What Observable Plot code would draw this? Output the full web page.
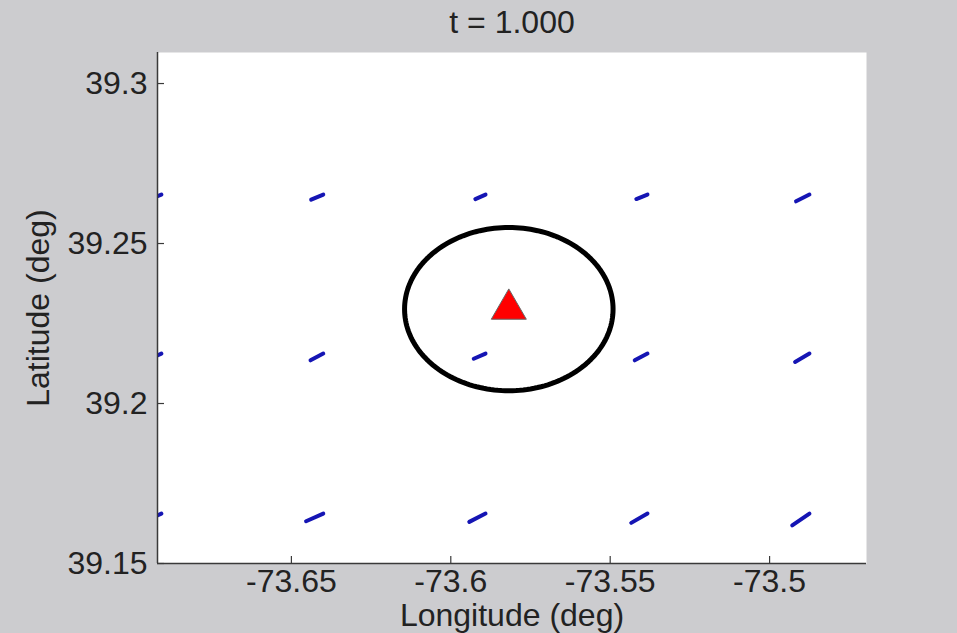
<!DOCTYPE html>
<html>
<head>
<meta charset="utf-8">
<script src="https://cdn.jsdelivr.net/npm/d3@7"></script>
<script src="https://cdn.jsdelivr.net/npm/@observablehq/plot@0.6"></script>
<style>
  html, body { margin: 0; padding: 0; background: #cccccf; }
  #chart { width: 957px; height: 633px; }
</style>
</head>
<body>
<div id="chart"></div>
<script>
// ---- data ----
const titleText = "t = 1.000";
const xLabel = "Longitude (deg)";
const yLabel = "Latitude (deg)";
const xTicks = [-73.65, -73.6, -73.55, -73.5];
const yTicks = [39.15, 39.2, 39.25, 39.3];
const xDomain = [-73.6920, -73.4696];
const yDomain = [39.15, 39.3097];

// quiver grid (anchor points)
const arrowLon = [-73.6908, -73.6400, -73.5891, -73.5383, -73.4875];
const arrowLat = [39.2653, 39.2156, 39.1656];
// vector components, 1e-3 deg (rows = arrowLat, cols = arrowLon)
const arrowU = [
  [-3.8, -3.8, -3.2, -3.5, -4.2],
  [-4.0, -4.0, -3.7, -4.0, -4.5],
  [-5.1, -5.4, -5.1, -5.1, -5.4]
];
const arrowV = [
  [-1.6, -1.6, -1.4, -1.4, -2.1],
  [-1.9, -2.1, -1.6, -2.1, -2.6],
  [-2.4, -2.4, -2.6, -2.9, -3.7]
];

// source location and ring
const sourceLon = -73.5818;
const sourceLat = 39.2295;
const ringRadiusLon = 0.0327;
const ringRadiusLat = 0.0255;

// ---- derived tables ----
const arrows = [];
arrowLat.forEach((lat, i) => arrowLon.forEach((lon, j) => {
  arrows.push({lon, lat, lon2: lon + arrowU[i][j] / 1000, lat2: lat + arrowV[i][j] / 1000});
}));
const ring = d3.range(0, 361, 2).map(a => {
  const t = a * Math.PI / 180;
  return {lon: sourceLon + ringRadiusLon * Math.cos(t), lat: sourceLat + ringRadiusLat * Math.sin(t)};
});

const W = 957, H = 633, mL = 157, mR = 91, mT = 52, mB = 70;
const plotW = W - mL - mR, plotH = H - mT - mB;
const axisColor = "#3a3a3a";
const FS = 32;

const chart = Plot.plot({
  width: W, height: H,
  marginLeft: mL, marginRight: mR, marginTop: mT, marginBottom: mB,
  x: {domain: xDomain},
  y: {domain: yDomain},
  style: {background: "#cccccf", fontFamily: "'Liberation Sans', Arial, sans-serif", fontSize: FS + "px", color: "#222"},
  marks: [
    Plot.frame({fill: "white", stroke: "none"}),
    Plot.link(arrows, {x1: "lon", y1: "lat", x2: "lon2", y2: "lat2", stroke: "#1515b4", strokeWidth: 4, strokeLinecap: "round", clip: true}),
    Plot.line(ring, {x: "lon", y: "lat", stroke: "black", strokeWidth: 5, curve: "linear-closed"}),
    Plot.dot([{lon: sourceLon, lat: sourceLat}], {x: "lon", y: "lat", symbol: "triangle", r: 13, fill: "#ff0000", stroke: "#666", strokeWidth: 1}),
    Plot.ruleX([xDomain[0]], {stroke: axisColor, strokeWidth: 1.5}),
    Plot.ruleY([yDomain[0]], {stroke: axisColor, strokeWidth: 1.5}),
    Plot.ruleX(xTicks, {x: d => d, insetTop: plotH - 7, stroke: axisColor, strokeWidth: 1.2}),
    Plot.ruleY(yTicks, {y: d => d, insetRight: plotW - 7, stroke: axisColor, strokeWidth: 1.2}),
    Plot.axisX({ticks: xTicks, tickSize: 0, tickPadding: 6, label: null, tickFormat: d => String(d), fontSize: FS, fill: "#222"}),
    Plot.axisY({ticks: yTicks, tickSize: 0, tickPadding: 10, label: null, tickFormat: d => String(d), fontSize: FS, fill: "#222"}),
    Plot.text([xLabel], {frameAnchor: "bottom", lineAnchor: "bottom", dy: 62, fontSize: FS, fill: "#222"}),
    Plot.text([yLabel], {frameAnchor: "left", textAnchor: "middle", lineAnchor: "middle", rotate: -90, dx: -119, fontSize: FS, fill: "#222"}),
    Plot.text([titleText], {frameAnchor: "top", lineAnchor: "top", dy: -42, fontSize: FS, fill: "#222"})
  ]
});
document.getElementById("chart").appendChild(chart);
</script>
</body>
</html>
